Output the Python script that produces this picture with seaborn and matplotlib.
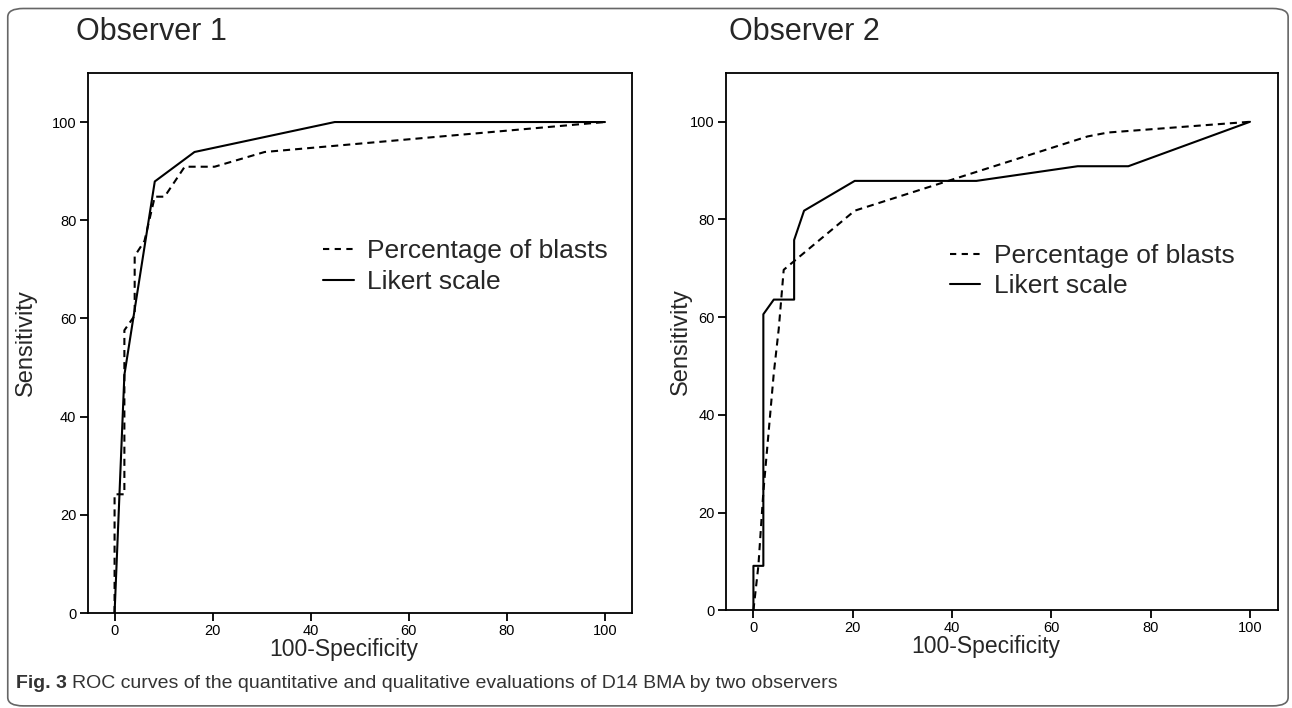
import numpy as np
import pandas as pd
import matplotlib
matplotlib.use('Agg')
import matplotlib.pyplot as plt
from matplotlib.patches import FancyBboxPatch
from matplotlib.lines import Line2D
import seaborn as sns

# ROC points (100-specificity, sensitivity)
obs1_blast_x = [0, 0, 2.0, 2.0, 4.1, 4.1, 6.1, 8.2, 10.2, 14.3, 20.4, 30.6, 100]
obs1_blast_y = [0, 24.2, 24.2, 57.6, 60.6, 72.7, 75.8, 84.8, 84.8, 90.9, 90.9, 93.9, 100]
obs1_likert_x = [0, 2.0, 8.2, 16.3, 44.9, 100]
obs1_likert_y = [0, 48.5, 87.9, 93.9, 100, 100]

obs2_blast_x = [0, 1.0, 2.0, 4.1, 5.1, 6.1, 20.4, 67.3, 71.4, 100]
obs2_blast_y = [0, 9.1, 24.2, 48.5, 57.6, 69.7, 81.8, 97.0, 97.8, 100]
obs2_likert_x = [0, 0, 2.0, 2.0, 4.1, 8.2, 8.2, 10.2, 20.4, 44.9, 65.3, 75.5, 100]
obs2_likert_y = [0, 9.1, 9.1, 60.6, 63.6, 63.6, 75.8, 81.8, 87.9, 87.9, 90.9, 90.9, 100]

methods = ['Percentage of blasts', 'Likert scale']
titles = ['Observer 1', 'Observer 2']
ticks = [0, 20, 40, 60, 80, 100]


def make_df(bx, by, lx, ly):
    d1 = pd.DataFrame({'x': bx, 'y': by, 'method': methods[0]})
    d2 = pd.DataFrame({'x': lx, 'y': ly, 'method': methods[1]})
    return pd.concat([d1, d2], ignore_index=True)


dfs = [make_df(obs1_blast_x, obs1_blast_y, obs1_likert_x, obs1_likert_y),
       make_df(obs2_blast_x, obs2_blast_y, obs2_likert_x, obs2_likert_y)]

sns.set_style('white')
plt.rcParams['font.family'] = ['Liberation Sans', 'DejaVu Sans']

fig = plt.figure(figsize=(12.92, 7.08), dpi=100)
frame = FancyBboxPatch((0.006, 0.003), 0.991, 0.985, boxstyle='round,pad=0,rounding_size=0.012',
                       transform=fig.transFigure, fill=False, ec='#666666', lw=1.2)
fig.patches.append(frame)

positions = [[0.0678, 0.134, 0.4217, 0.763], [0.562, 0.138, 0.427, 0.759]]
dash_style = {methods[0]: (3.4, 2.4), methods[1]: ''}
legend_pos = [(0.432, 0.692), (0.405, 0.682)]
ylab_x = [-0.093, -0.062]

for i, ax_pos in enumerate(positions):
    ax = fig.add_axes(ax_pos)
    sns.lineplot(data=dfs[i], x='x', y='y', style='method', dashes=dash_style,
                 color='black', lw=1.5, sort=False, estimator=None, ax=ax, legend=False)
    ax.set_xlim(-5.5, 105.6)
    ax.set_ylim(0, 110)
    ax.set_xticks(ticks)
    ax.set_yticks(ticks)
    ax.tick_params(direction='out', length=6, width=1.3, labelsize=10.5, colors='black',
                   left=True, bottom=True, pad=2)
    for s in ax.spines.values():
        s.set_color('black')
        s.set_linewidth(1.3)
    ax.set_xlabel('100-Specificity', fontsize=16.5)
    ax.set_ylabel('Sensitivity', fontsize=17)
    ax.xaxis.set_label_coords(0.47, -0.046)
    ax.yaxis.set_label_coords(ylab_x[i], 0.5)
    handles = [Line2D([], [], color='black', lw=1.5, ls=(0, (3, 2.6))),
               Line2D([], [], color='black', lw=1.5)]
    ax.legend(handles, methods, frameon=False, fontsize=19, loc='upper left',
              bbox_to_anchor=legend_pos[i], handlelength=1.17, handletextpad=0.5,
              labelspacing=0.25, borderpad=0, borderaxespad=0)

fig.text(0.059, 0.955, titles[0], fontsize=22, va='center')
fig.text(0.564, 0.955, titles[1], fontsize=22, va='center')

fig.canvas.draw()
cap_bold = fig.text(0.012, 0.035, 'Fig. 3', fontsize=14, fontweight='bold', color='#333333',
                    va='center')
bb = cap_bold.get_window_extent(renderer=fig.canvas.get_renderer())
fig.text(bb.x1 / fig.bbox.width + 0.004, 0.035,
         'ROC curves of the quantitative and qualitative evaluations of D14 BMA by two observers',
         fontsize=14, color='#333333', va='center')

fig.savefig('out.png', dpi=100)
